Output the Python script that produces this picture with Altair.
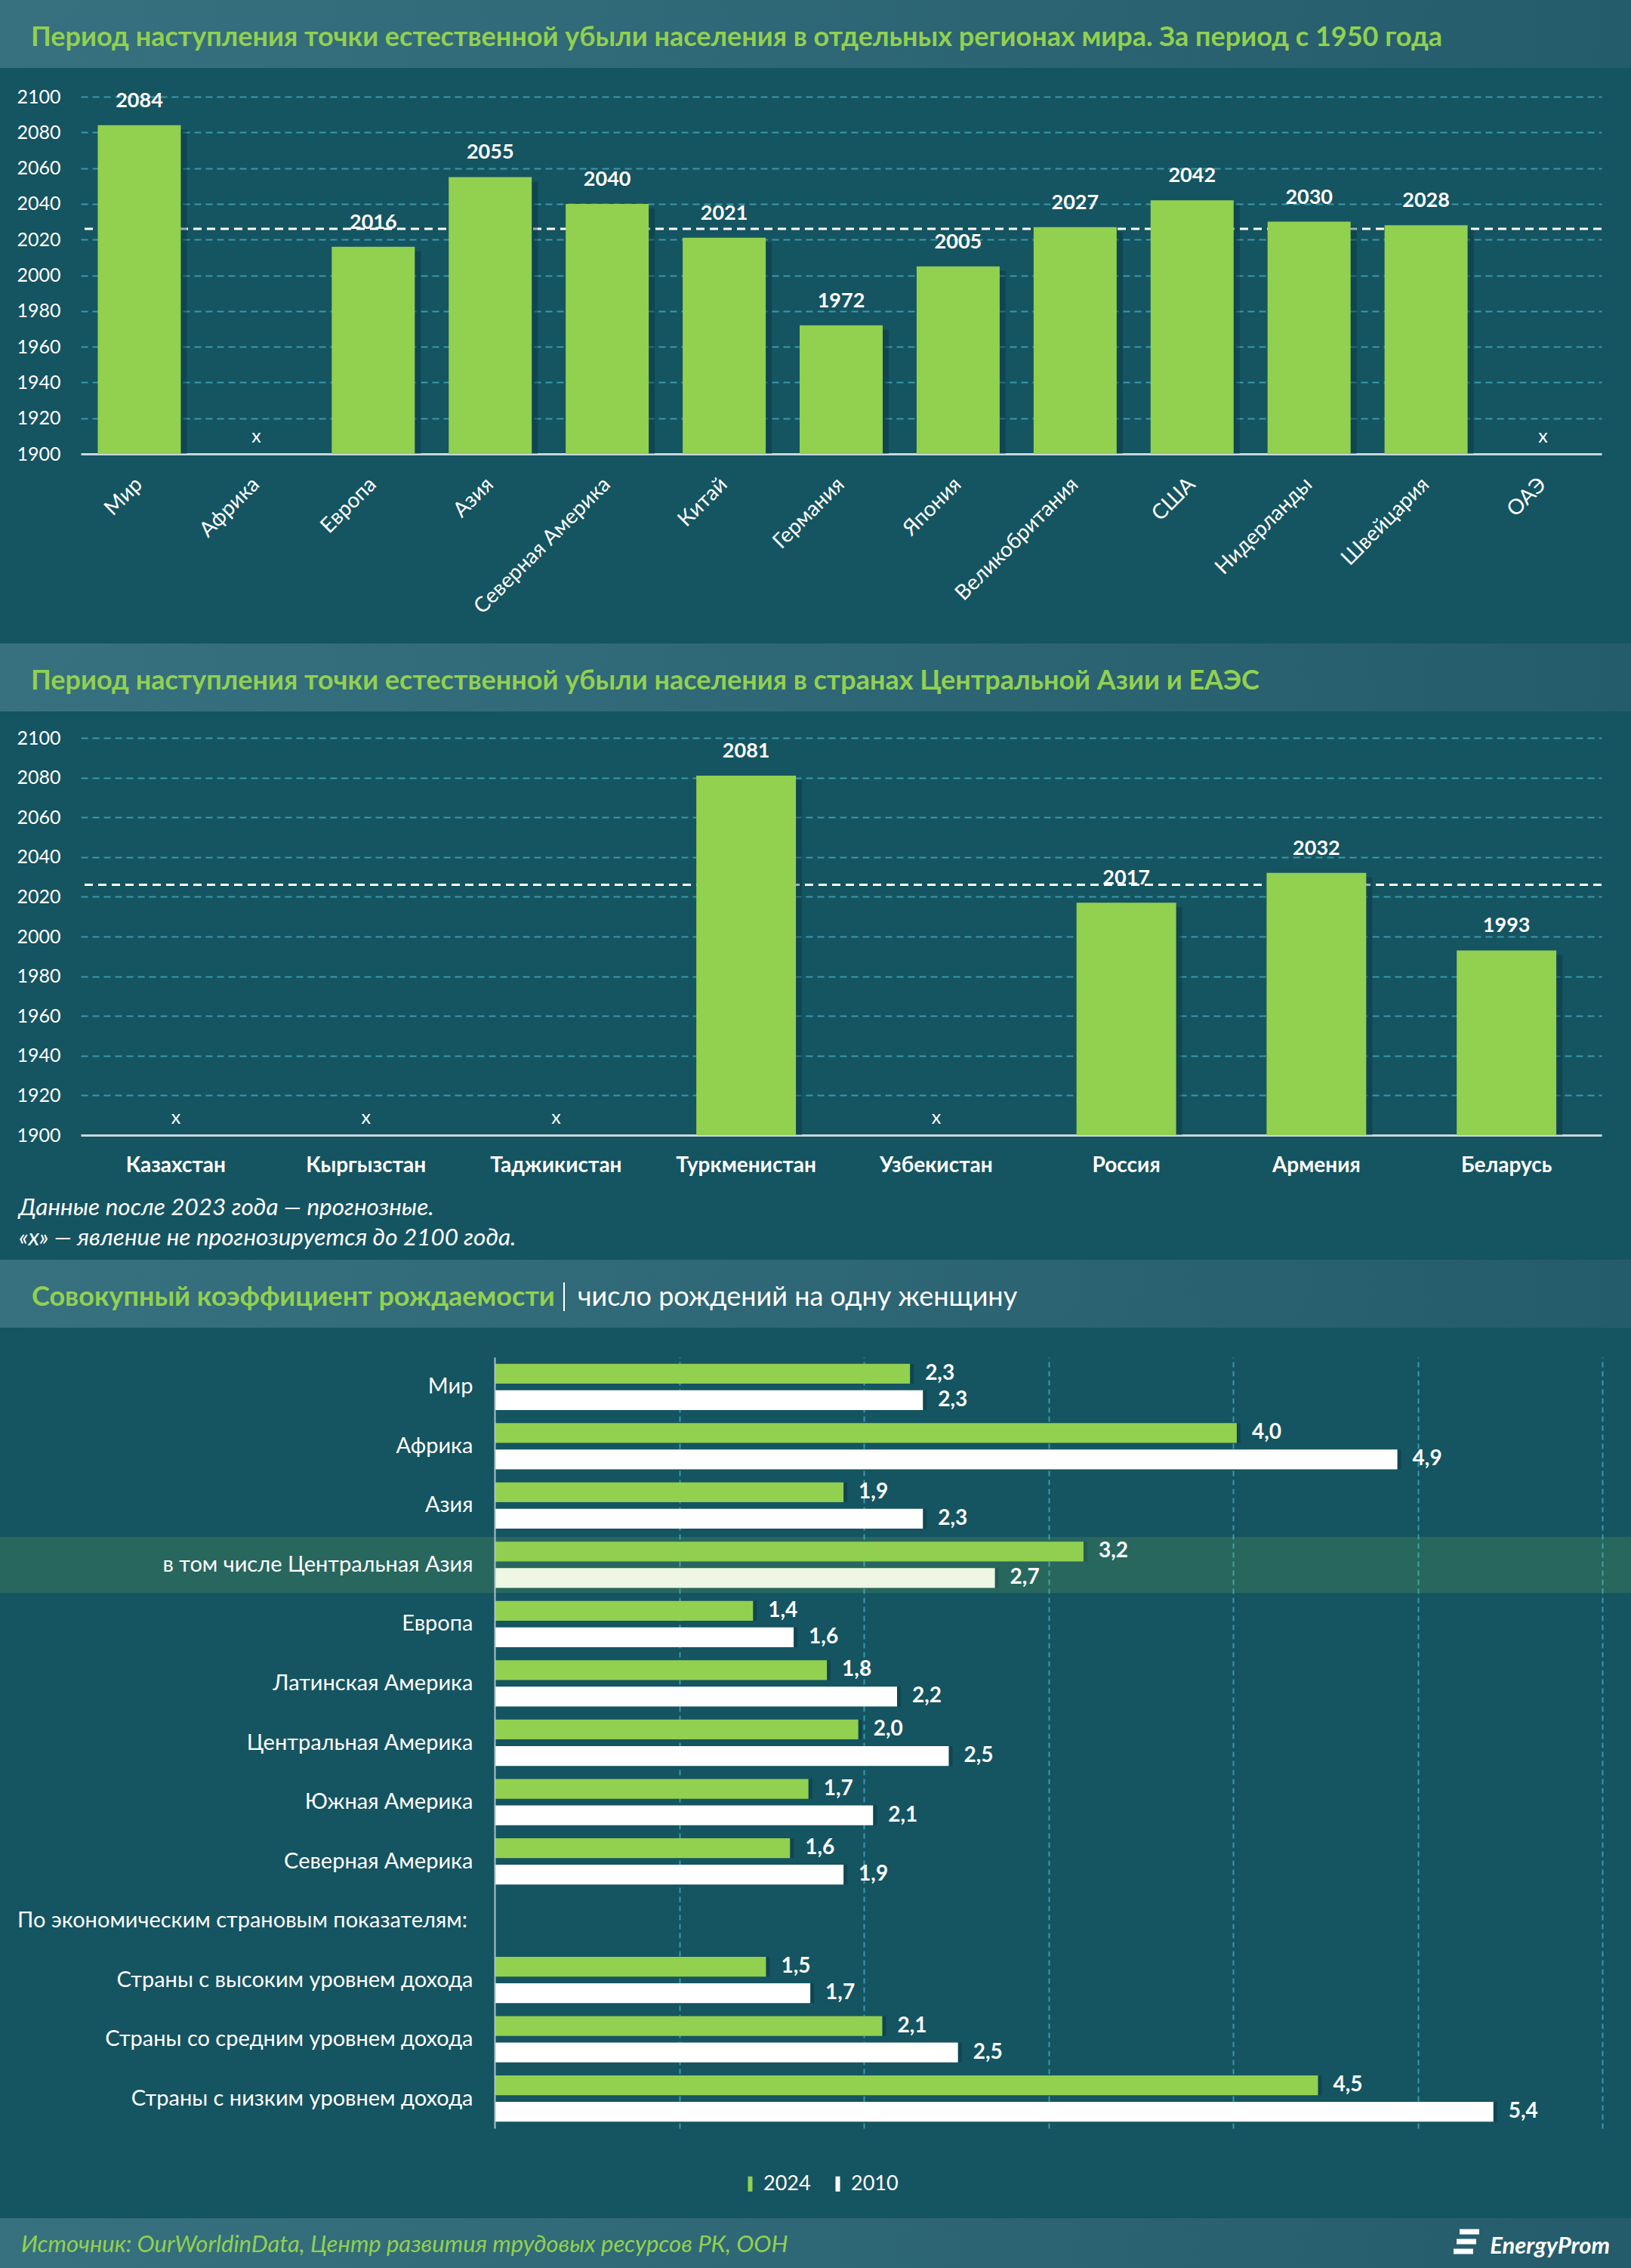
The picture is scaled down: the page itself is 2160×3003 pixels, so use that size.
import altair as alt
import pandas as pd

# ---------------- data ----------------
regions = ["Мир", "Африка", "Европа", "Азия", "Северная Америка", "Китай", "Германия",
           "Япония", "Великобритания", "США", "Нидерланды", "Швейцария", "ОАЭ"]
region_years = [2084, None, 2016, 2055, 2040, 2021, 1972, 2005, 2027, 2042, 2030, 2028, None]

countries = ["Казахстан", "Кыргызстан", "Таджикистан", "Туркменистан", "Узбекистан",
             "Россия", "Армения", "Беларусь"]
country_years = [None, None, None, 2081, None, 2017, 2032, 1993]

year_ticks = [1900, 1920, 1940, 1960, 1980, 2000, 2020, 2040, 2060, 2080, 2100]
ref_year = 2026

tfr_categories = ["Мир", "Африка", "Азия", "в том числе Центральная Азия", "Европа",
                  "Латинская Америка", "Центральная Америка", "Южная Америка",
                  "Северная Америка", "По экономическим страновым показателям:",
                  "Страны с высоким уровнем дохода", "Страны со средним уровнем дохода",
                  "Страны с низким уровнем дохода"]
tfr_2024 = [2.25, 4.02, 1.89, 3.19, 1.40, 1.80, 1.97, 1.70, 1.60, None, 1.47, 2.10, 4.46]
tfr_2010 = [2.32, 4.89, 2.32, 2.71, 1.62, 2.18, 2.46, 2.05, 1.89, None, 1.71, 2.51, 5.41]
tfr_2024_labels = ["2,3", "4,0", "1,9", "3,2", "1,4", "1,8", "2,0", "1,7", "1,6", "", "1,5", "2,1", "4,5"]
tfr_2010_labels = ["2,3", "4,9", "2,3", "2,7", "1,6", "2,2", "2,5", "2,1", "1,9", "", "1,7", "2,5", "5,4"]
series_names = ["2024", "2010"]
tfr_ticks = [1, 2, 3, 4, 5, 6]
header_row = "По экономическим страновым показателям:"
highlight_row = "в том числе Центральная Азия"

title1 = "Период наступления точки естественной убыли населения в отдельных регионах мира. За период с 1950 года"
title2 = "Период наступления точки естественной убыли населения в странах Центральной Азии и ЕАЭС"
title3a = "Совокупный коэффициент рождаемости"
title3b = "число рождений на одну женщину"
note1 = "Данные после 2023 года — прогнозные."
note2 = "«x» — явление не прогнозируется до 2100 года."
source = "Источник: OurWorldinData, Центр развития трудовых ресурсов РК, ООН"
brand = "EnergyProm"

# ---------------- styles ----------------
FONT = "Lato"
BG = "#155461"
GREEN = "#92d050"
GRID = "#3a98ad"
AXISLINE = "#c8d8dc"
SHADOW = "#08323c"
W = 2160
X0 = 107
PW = 2014

band_grad = alt.LinearGradient(
    gradient="linear",
    stops=[alt.GradientStop(color="#37717f", offset=0), alt.GradientStop(color="#255c6b", offset=1)],
    x1=0, x2=1, y1=0, y2=0)

one = pd.DataFrame({"k": [0]})


def rect(top, bottom, **kw):
    return alt.Chart(one).mark_rect(**kw).encode(
        x=alt.value(-X0), x2=alt.value(W - X0), y=alt.value(top), y2=alt.value(bottom))


def txt(text, x, y, **kw):
    kw.setdefault("font", FONT)
    kw.setdefault("baseline", "middle")
    kw.setdefault("align", "left")
    return alt.Chart(one).mark_text(text=text, **kw).encode(x=alt.value(x), y=alt.value(y))


def hline(x1, x2, y, **kw):
    return alt.Chart(one).mark_rule(**kw).encode(x=alt.value(x1), x2=alt.value(x2), y=alt.value(y))


def year_axis():
    return alt.Axis(title=None, values=year_ticks, grid=True, gridColor=GRID, gridDash=[9, 6],
                    gridWidth=2, domain=False, ticks=False, tickSize=0, labelPadding=27,
                    labelColor="white", labelFont=FONT, labelFontSize=25, format="d")


def year_panel(key, cats, years, height, top, bottom, title, xaxis, pad_inner, extra):
    cf, yf = "cat" + key, "year" + key
    df = pd.DataFrame({cf: cats, yf: years})
    xe = alt.X(cf + ":N", scale=alt.Scale(domain=cats, paddingInner=pad_inner, paddingOuter=pad_inner / 2),
               axis=xaxis)
    ysc = alt.Scale(domain=[1900, 2100], nice=False, zero=False)
    ye = alt.Y(yf + ":Q", scale=ysc, axis=year_axis())
    base = alt.Chart(df)
    valid = "isValid(datum['%s'])" % yf
    bounds = rect(top, bottom, opacity=0)
    band = rect(top, top + 90, color=band_grad)
    ttl = txt(title, -X0 + 41, top + 50, color=GREEN, fontSize=36, fontWeight="bold")
    ref = alt.Chart(one).mark_rule(color="white", strokeWidth=3, strokeDash=[11, 7]).encode(
        y=alt.Y(datum=ref_year, type="quantitative", scale=ysc, axis=year_axis()))
    shadow = base.transform_filter(valid).mark_bar(color=SHADOW, opacity=0.4, xOffset=8, yOffset=6).encode(
        x=xe, y=ye, y2=alt.Y2(datum=1900))
    bars = base.transform_filter(valid).mark_bar(color=GREEN).encode(
        x=xe, y=ye, y2=alt.Y2(datum=1900))
    labels = base.transform_filter(valid).mark_text(
        font=FONT, fontSize=27, fontWeight="bold", color="white", baseline="alphabetic", dy=-24
    ).encode(x=xe, y=ye, text=alt.Text(yf + ":Q", format="d"))
    xs = base.transform_filter("!" + valid).mark_text(
        text="x", font=FONT, fontSize=25, color="white", baseline="middle", dy=-23
    ).encode(x=xe, y=alt.Y(datum=1900, type="quantitative", scale=ysc, axis=year_axis()))
    return alt.layer(bounds, band, ttl, ref, shadow, bars, labels, xs, *extra).properties(
        width=PW, height=height)


x_axis1 = alt.Axis(title=None, labelAngle=-45, labelAlign="right", labelBaseline="middle",
                   labelPadding=36, ticks=False, tickSize=0, domainColor=AXISLINE, domainWidth=3,
                   labelColor="white", labelFont=FONT, labelFontSize=28, labelLimit=0,
                   labelOverlap=False, grid=False)
p1 = year_panel("1", regions, region_years, 473, -128, 724, title1, x_axis1, 0.29, [])

x_axis2 = alt.Axis(title=None, labelAngle=0, labelAlign="center", labelBaseline="middle",
                   labelPadding=40, ticks=False, tickSize=0, domainColor=AXISLINE, domainWidth=3,
                   labelColor="white", labelFont=FONT, labelFontSize=28, labelFontWeight="bold",
                   labelLimit=0, labelOverlap=False, grid=False)
notes = [txt(note1, -82, 623, color="white", fontSize=31.5, fontStyle="italic"),
         txt(note2, -82, 663, color="white", fontSize=31.5, fontStyle="italic")]
p2 = year_panel("2", countries, country_years, 526, -125, 691, title2, x_axis2, 0.476, notes)

# ---------------- panel 3 ----------------
rows = []
for cat, v24, v10, l24, l10 in zip(tfr_categories, tfr_2024, tfr_2010, tfr_2024_labels, tfr_2010_labels):
    if v24 is not None:
        rows.append({"cat3": cat, "series": series_names[0], "val": v24, "lab": l24})
    if v10 is not None:
        rows.append({"cat3": cat, "series": series_names[1], "val": v10, "lab": l10})
df3 = pd.DataFrame(rows)

H3 = 1021
PW3 = 2015
xmin = -548 / ((PW3 - 548) / 6.0)
x3sc = alt.Scale(domain=[xmin, 6], nice=False, zero=False)
x3ax = alt.Axis(title=None, values=tfr_ticks, labels=False, ticks=False, domain=False,
                grid=True, gridColor=GRID, gridDash=[7, 5], gridWidth=2)
x3 = alt.X("val:Q", scale=x3sc, axis=x3ax)
y3sc = alt.Scale(domain=tfr_categories, paddingInner=0.22, paddingOuter=0.11)
y3ax = alt.Axis(title=None, orient="left", offset=-548, labelPadding=29, domain=True,
                domainColor="#a9c3ca", domainWidth=2, ticks=False, tickSize=0,
                labelColor="white", labelFont=FONT, labelFontSize=29, labelLimit=0,
                labelOverlap=False, zindex=1,
                labelExpr="datum.value == '" + header_row + "' ? '' : datum.value")
y3 = alt.Y("cat3:N", scale=y3sc, axis=y3ax)
yo3 = alt.YOffset("series:N", scale=alt.Scale(domain=series_names, paddingInner=0.25, paddingOuter=0))
col3 = alt.Color("series:N", scale=alt.Scale(domain=series_names, range=[GREEN, "white"]),
                 legend=alt.Legend(title=None, orient="none", legendX=873, legendY=1081,
                                   direction="horizontal", symbolType="M-0.3,-1H0.3V1H-0.3Z",
                                   symbolSize=400, symbolStrokeWidth=0, symbolOpacity=1,
                                   labelColor="white", labelFont=FONT, labelFontSize=27,
                                   labelOffset=4, columnPadding=22, padding=0))

base3 = alt.Chart(df3)
bounds3 = rect(-129, 1206, opacity=0)
band3 = rect(-129, -39, color=band_grad)
foot3 = rect(1140, 1206, color=band_grad)
t3a = txt(title3a, -65, -79, color=GREEN, fontSize=36, fontWeight="bold")
t3sep = alt.Chart(one).mark_rule(color="white", strokeWidth=2).encode(
    x=alt.value(640), y=alt.value(-99), y2=alt.value(-61))
t3b = txt(title3b, 658, -79, color="white", fontSize=36)
src = txt(source, -79, 1176, color=GREEN, fontSize=31, fontStyle="italic")
brd = txt(brand, 2025, 1178, color="white", fontSize=31, fontStyle="italic", fontWeight="bold", align="right")
logo = [hline(1826, 1852, 1158, color="white", strokeWidth=7),
        hline(1822, 1848, 1171, color="white", strokeWidth=7),
        hline(1818, 1844, 1184, color="white", strokeWidth=7)]

shadow3 = base3.mark_bar(color=SHADOW, opacity=0.4, xOffset=5, yOffset=5).encode(
    x=x3, x2=alt.X2(datum=0), y=y3, yOffset=yo3)
bars3 = base3.mark_bar().encode(x=x3, x2=alt.X2(datum=0), y=y3, yOffset=yo3, color=col3)
hl = alt.Chart(pd.DataFrame({"cat3": [highlight_row]})).mark_bar(
    color=GREEN, opacity=0.16, height=74).encode(
    y=y3, x=alt.value(-X0), x2=alt.value(W - X0))
vals3 = base3.mark_text(font=FONT, fontSize=28, fontWeight="bold", color="white", align="left",
                        baseline="middle", dx=20).encode(x=x3, y=y3, yOffset=yo3, text="lab:N")
hdr = alt.Chart(pd.DataFrame({"cat3": [header_row]})).mark_text(
    font=FONT, fontSize=29, color="white", align="left", baseline="middle").encode(
    y=y3, x=alt.value(-84), text="cat3:N")

p3 = alt.layer(bounds3, band3, foot3, t3a, t3sep, t3b, src, brd, *logo, shadow3, bars3, hl, vals3, hdr
               ).properties(width=PW3, height=H3)

chart = alt.vconcat(p1, p2, p3, spacing=0).resolve_scale(
    x="independent", y="independent", color="independent").resolve_legend(
    color="independent").properties(padding=0, background=BG).configure(
    font=FONT).configure_view(strokeWidth=0, stroke="transparent")

chart.save("out.html", embed_options={"renderer": "svg", "actions": False})
